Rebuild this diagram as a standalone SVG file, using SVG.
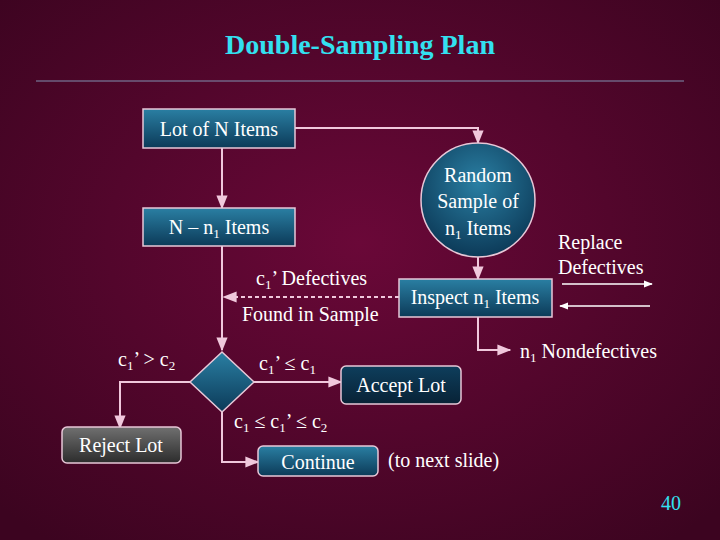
<svg xmlns="http://www.w3.org/2000/svg" width="720" height="540" viewBox="0 0 720 540" font-family="Liberation Serif, Tinos, DejaVu Serif, serif">
<defs>
<radialGradient id="bg" cx="50%" cy="45%" r="70%"><stop offset="0" stop-color="#6a0838"/><stop offset="1" stop-color="#3c0420"/></radialGradient>
<linearGradient id="teal" x1="0" y1="0" x2="0" y2="1"><stop offset="0" stop-color="#2a7fa3"/><stop offset="1" stop-color="#0c3a58"/></linearGradient>
<linearGradient id="navy" x1="0" y1="0" x2="0" y2="1"><stop offset="0" stop-color="#0e3e5c"/><stop offset="1" stop-color="#082236"/></linearGradient>
<linearGradient id="gray" x1="0" y1="0" x2="0" y2="1"><stop offset="0" stop-color="#707070"/><stop offset="1" stop-color="#2c2c2c"/></linearGradient>
<radialGradient id="circ" cx="50%" cy="35%" r="65%"><stop offset="0" stop-color="#2a7fa3"/><stop offset="1" stop-color="#0c3a58"/></radialGradient>
<marker id="ah" viewBox="0 0 10 10" refX="9" refY="5" markerWidth="7" markerHeight="7" orient="auto"><path d="M0,1 L10,5 L0,9 z" fill="#f0c8dc"/></marker>
<marker id="aw" viewBox="0 0 10 10" refX="9" refY="5" markerWidth="6" markerHeight="6" orient="auto"><path d="M0,1 L10,5 L0,9 z" fill="#ffffff"/></marker>
</defs>
<style>
text{font-family:"Liberation Serif",Tinos,"DejaVu Serif",serif;font-size:20px;fill:#ffffff}
.c{text-anchor:middle}
.box{stroke:#e8c8d8;stroke-width:1.5}
.ln{fill:none;stroke:#f0c8dc;stroke-width:2}
.sub{font-size:13px}
</style>
<rect width="720" height="540" fill="url(#bg)"/>
<text x="360" y="54" class="c" style="font-size:28px;font-weight:bold;fill:#33e0f0">Double-Sampling Plan</text>
<line x1="36" y1="81" x2="684" y2="81" stroke="#8090b0" stroke-width="1"/>
<g id="connectors">
<path class="ln" d="M295,128 H478 V143" marker-end="url(#ah)"/>
<path class="ln" d="M222,148 V208" marker-end="url(#ah)"/>
<path class="ln" d="M222,246 V350" marker-end="url(#ah)"/>
<path class="ln" d="M478,257 V279" marker-end="url(#ah)"/>
<path class="ln" d="M399,297 H224" stroke-dasharray="4,3" marker-end="url(#ah)"/>
<path class="ln" d="M478,317 V350 H510" marker-end="url(#ah)"/>
<path class="ln" d="M190,382 H120 V428" marker-end="url(#ah)"/>
<path class="ln" d="M254,382 H341" stroke-width="1.5" marker-end="url(#ah)"/>
<path class="ln" d="M222,412 V462 H258" marker-end="url(#ah)"/>
<path d="M562,284 H652" stroke="#fff" stroke-width="1.5" marker-end="url(#aw)"/>
<path d="M650,306 H560" stroke="#fff" stroke-width="1.5" marker-end="url(#aw)"/>
</g>
<g id="lot"><rect class="box" x="143" y="109" width="152" height="39" fill="url(#teal)"/><text x="219" y="136" class="c">Lot of N Items</text></g>
<g id="rest"><rect class="box" x="143" y="208" width="152" height="38" fill="url(#teal)"/><text x="219" y="234" class="c">N – n<tspan class="sub" dy="4">1</tspan><tspan dy="-4"> Items</tspan></text></g>
<g id="sample"><circle class="box" cx="478" cy="200" r="57" fill="url(#circ)"/><text x="478" y="182" class="c">Random</text><text x="478" y="208" class="c">Sample of</text><text x="478" y="235" class="c">n<tspan class="sub" dy="4">1</tspan><tspan dy="-4"> Items</tspan></text></g>
<g id="inspect"><rect class="box" x="399" y="279" width="153" height="38" fill="url(#teal)"/><text x="475" y="304" class="c">Inspect n<tspan class="sub" dy="4">1</tspan><tspan dy="-4"> Items</tspan></text></g>
<g id="decision"><polygon class="box" points="222,352 254,382 222,412 190,382" fill="url(#teal)"/></g>
<g id="accept"><rect class="box" x="341" y="366" width="120" height="38" rx="5" fill="url(#navy)"/><text x="401" y="392" class="c">Accept Lot</text></g>
<g id="reject"><rect class="box" x="62" y="427" width="119" height="36" rx="5" fill="url(#gray)"/><text x="121" y="452" class="c">Reject Lot</text></g>
<g id="continue"><rect class="box" x="258" y="446" width="120" height="30" rx="5" fill="url(#teal)"/><text x="318" y="469" class="c">Continue</text></g>
<g id="labels">
<text x="256" y="285">c<tspan class="sub" dy="4">1</tspan><tspan dy="-4">’ Defectives</tspan></text>
<text x="242" y="321">Found in Sample</text>
<text x="558" y="249">Replace</text>
<text x="558" y="274">Defectives</text>
<text x="520" y="358">n<tspan class="sub" dy="4">1</tspan><tspan dy="-4"> Nondefectives</tspan></text>
<text x="118" y="366">c<tspan class="sub" dy="4">1</tspan><tspan dy="-4">’ &gt; c</tspan><tspan class="sub" dy="4">2</tspan></text>
<text x="259" y="370">c<tspan class="sub" dy="4">1</tspan><tspan dy="-4">’ ≤ c</tspan><tspan class="sub" dy="4">1</tspan></text>
<text x="234" y="428">c<tspan class="sub" dy="4">1</tspan><tspan dy="-4"> ≤ c</tspan><tspan class="sub" dy="4">1</tspan><tspan dy="-4">’ ≤ c</tspan><tspan class="sub" dy="4">2</tspan></text>
<text x="388" y="467">(to next slide)</text>
<text x="681" y="510" style="text-anchor:end;fill:#33e0f0">40</text>
</g>
</svg>
